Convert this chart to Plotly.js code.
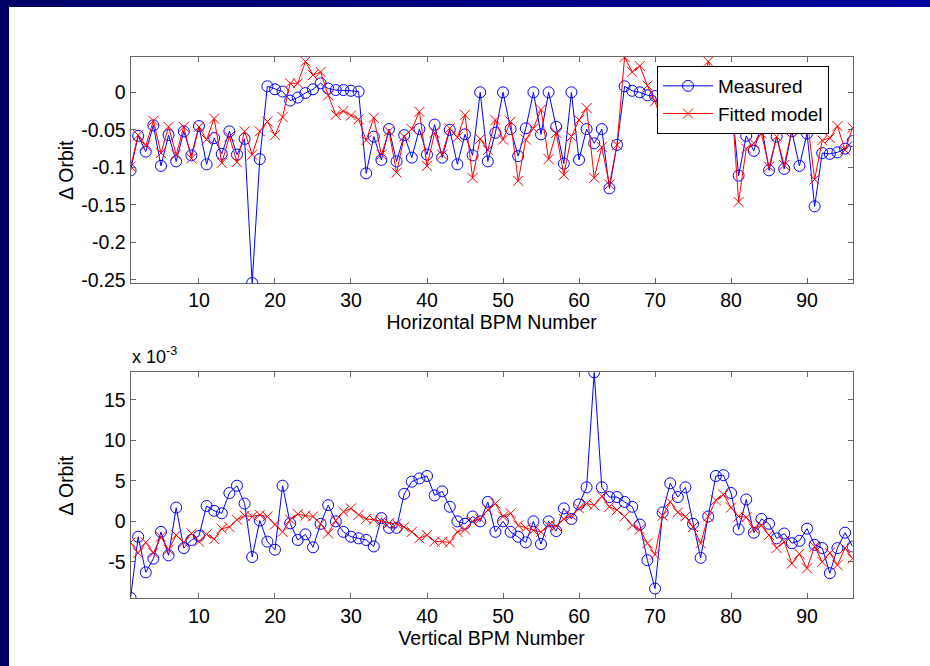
<!DOCTYPE html>
<html>
<head>
<meta charset="utf-8">
<script src="https://cdn.plot.ly/plotly-3.0.1.min.js"></script>
<style>
  html, body { margin: 0; padding: 0; }
  body { width: 930px; height: 666px; overflow: hidden; position: relative;
         background: linear-gradient(to right, #000066, #00009a); }
  #frame { position: absolute; left: 9px; top: 7px; width: 921px; height: 659px; background: #ffffff; }
  #chart { width: 921px; height: 659px; }
</style>
</head>
<body>
<div id="frame"><div id="chart"></div></div>
<script>
// BPM index 1..96
const bpm = [];
for (let i = 1; i <= 96; i++) bpm.push(i);

const xTickVals = [10, 20, 30, 40, 50, 60, 70, 80, 90];

// Horizontal orbit difference (top panel)
const hMeasured = [
  -0.104, -0.058, -0.079, -0.044, -0.098, -0.057, -0.092, -0.052, -0.084, -0.045,
  -0.096, -0.061, -0.082, -0.052, -0.083, -0.062, -0.254, -0.089, 0.008, 0.004,
  0.001, -0.011, -0.007, -0.001, 0.004, 0.012, 0.005, 0.003, 0.003, 0.002,
  0.001, -0.108, -0.059, -0.090, -0.049, -0.092, -0.057, -0.087, -0.049, -0.083,
  -0.043, -0.087, -0.050, -0.096, -0.056, -0.084, 0.000, -0.092, -0.054, 0.000,
  -0.049, -0.085, -0.048, 0.000, -0.056, 0.000, -0.046, -0.095, 0.000, -0.090,
  -0.049, -0.068, -0.049, -0.128, -0.070, 0.008, 0.002, 0.000, -0.004, -0.005,
  -0.030, -0.010, -0.025, 0.000, -0.015, -0.020, 0.000, -0.010, -0.025, -0.005,
  -0.111, -0.058, -0.078, -0.043, -0.104, -0.059, -0.102, -0.052, -0.098, -0.055,
  -0.152, -0.081, -0.082, -0.080, -0.075, -0.065
];
const hFitted = [
  -0.099, -0.057, -0.071, -0.038, -0.081, -0.046, -0.083, -0.046, -0.088, -0.046,
  -0.063, -0.035, -0.094, -0.059, -0.093, -0.052, -0.083, -0.052, -0.039, -0.057,
  -0.033, 0.012, 0.012, 0.041, 0.023, 0.027, -0.004, -0.030, -0.025, -0.031,
  -0.036, -0.064, -0.034, -0.083, -0.052, -0.107, -0.059, -0.049, -0.026, -0.098,
  -0.054, -0.083, -0.048, -0.060, -0.030, -0.114, -0.062, -0.077, -0.037, -0.063,
  -0.039, -0.118, -0.063, -0.048, -0.023, -0.089, -0.054, -0.110, -0.059, -0.037,
  -0.021, -0.114, -0.073, -0.123, -0.070, 0.047, 0.027, 0.035, 0.009, -0.012,
  -0.042, -0.010, 0.000, -0.020, 0.010, -0.005, 0.041, 0.010, -0.010, 0.000,
  -0.146, -0.075, -0.068, -0.055, -0.099, -0.059, -0.097, -0.050, -0.045, -0.035,
  -0.116, -0.064, -0.061, -0.045, -0.077, -0.047
];
const hTickVals = [-0.25, -0.2, -0.15, -0.1, -0.05, 0];
const hTickText = ['-0.25', '-0.2', '-0.15', '-0.1', '-0.05', '0'];

// Vertical orbit difference (bottom panel), in units of 1e-3
const vMeasured = [
  -9.45, -1.9, -6.3, -4.6, -1.3, -4.2, 1.7, -3.3, -2.3, -1.8,
  1.9, 1.3, 1.0, 3.5, 4.4, 2.2, -4.4, 0.1, -2.5, -3.5,
  4.4, -0.25, -2.3, -1.6, -3.2, -0.3, 2.0, 0.0, -1.3, -1.9,
  -2.1, -2.3, -3.1, 0.4, -0.8, -0.8, 3.4, 4.9, 5.3, 5.6,
  3.2, 3.7, 1.8, 0.0, -0.3, 0.6, 0.0, 2.4, -1.3, 0.0,
  -1.3, -1.9, -2.6, 0.0, -2.8, 0.0, -1.2, 1.6, 0.3, 2.1,
  4.2, 18.4, 4.2, 3.0, 3.0, 2.4, 1.8, -0.4, -4.8, -8.3,
  1.1, 4.7, 3.0, 4.2, -0.3, -4.5, 0.6, 5.6, 5.7, 3.5,
  -1.0, 2.7, -1.4, 0.3, -0.3, -2.1, -1.5, -2.7, -2.4, -0.9,
  -2.9, -3.3, -6.4, -3.3, -1.4, -3.1
];
const vFitted = [
  -2.6, -3.9, -2.6, -3.9, -1.9, -3.5, -1.7, -2.6, -1.5, -2.5,
  -1.6, -2.2, -0.9, -0.7, 0.2, 0.7, 0.6, 0.8, 0.6, -0.4,
  -1.3, 0.2, 0.9, 0.7, 0.6, -0.3, -1.5, 0.1, 1.2, 1.6,
  0.8, 0.3, 0.2, 0.0, -0.2, -0.3, -0.7, -1.3, -2.1, -1.7,
  -2.5, -2.5, -2.6, -1.3, -1.0, 0.0, 0.3, 1.4, 2.2, 0.6,
  1.0, -0.5, -0.8, -1.1, -1.3, -0.5, -0.6, 0.3, 0.7, 1.6,
  2.2, 2.0, 3.1, 1.8, 1.4, 0.6, -0.5, -1.0, -2.7, -4.1,
  0.7, 2.4, 1.1, 0.6, -0.7, -2.7, 0.6, 2.6, 3.3, 1.7,
  0.6, 0.5, -0.9, -0.5, -1.7, -3.3, -2.5, -5.2, -4.0, -5.8,
  -3.1, -5.0, -3.9, -5.4, -3.3, -4.6
];
const vTickVals = [-5, 0, 5, 10, 15];
const vTickText = ['-5', '0', '5', '10', '15'];

const BLUE = '#0000ff', RED = '#ff0000';
const FONT = 'Liberation Sans, Arial, sans-serif';

function measuredTrace(y, xa, ya, show) {
  return { x: bpm, y: y, xaxis: xa, yaxis: ya, type: 'scatter', mode: 'lines+markers',
    name: 'Measured', legendgroup: 'm', showlegend: show,
    line: { color: BLUE, width: 1 },
    marker: { symbol: 'circle-open', size: 11, color: BLUE, line: { width: 1, color: BLUE } } };
}
function fittedTrace(y, xa, ya, show) {
  return { x: bpm, y: y, xaxis: xa, yaxis: ya, type: 'scatter', mode: 'lines+markers',
    name: 'Fitted model', legendgroup: 'f', showlegend: show,
    line: { color: RED, width: 1 },
    marker: { symbol: 'x-thin-open', size: 10, color: RED, line: { width: 1, color: RED } } };
}

const data = [
  measuredTrace(hMeasured, 'x', 'y', true),
  fittedTrace(hFitted, 'x', 'y', true),
  measuredTrace(vMeasured, 'x2', 'y2', false),
  fittedTrace(vFitted, 'x2', 'y2', false)
];

const axisCommon = {
  showline: true, linecolor: '#666666', linewidth: 1, mirror: 'ticks',
  ticks: 'inside', ticklen: 5, tickcolor: '#666666', tickwidth: 1,
  showgrid: false, zeroline: false, automargin: false,
  tickfont: { family: FONT, size: 19.5, color: '#000000' }
};
const XDOM = [0.1320, 0.9160];

const layout = {
  width: 921, height: 659,
  margin: { l: 0, r: 0, t: 0, b: 0 },
  paper_bgcolor: '#ffffff', plot_bgcolor: '#ffffff',
  font: { family: FONT, size: 19.5, color: '#000000' },
  showlegend: true,
  legend: {
    x: 0.7036, y: 0.9105, xanchor: 'left', yanchor: 'top',
    bgcolor: '#ffffff', bordercolor: '#000000', borderwidth: 1,
    font: { family: FONT, size: 19, color: '#000000' },
    itemwidth: 50, tracegroupgap: 0
  },
  xaxis: Object.assign({}, axisCommon, {
    domain: XDOM, anchor: 'y', range: [1, 96], tickvals: xTickVals,
    title: { text: 'Horizontal BPM Number', font: { family: FONT, size: 19.5 }, standoff: 3 }
  }),
  yaxis: Object.assign({}, axisCommon, {
    domain: [0.5812, 0.9241], anchor: 'x', range: [-0.254, 0.047],
    tickvals: hTickVals, ticktext: hTickText
  }),
  xaxis2: Object.assign({}, axisCommon, {
    domain: XDOM, anchor: 'y2', range: [1, 96], tickvals: xTickVals,
    title: { text: 'Vertical BPM Number', font: { family: FONT, size: 19.5 }, standoff: 3 }
  }),
  yaxis2: Object.assign({}, axisCommon, {
    domain: [0.1027, 0.4457], anchor: 'x2', range: [-9.5, 18.4],
    tickvals: vTickVals, ticktext: vTickText
  }),
  annotations: [
    { text: '\u0394 Orbit', xref: 'paper', yref: 'paper', x: 0.062, y: (0.5812 + 0.9241) / 2,
      xanchor: 'center', yanchor: 'middle', textangle: -90, showarrow: false,
      font: { family: FONT, size: 19.5, color: '#000000' } },
    { text: '\u0394 Orbit', xref: 'paper', yref: 'paper', x: 0.062, y: (0.1027 + 0.4457) / 2,
      xanchor: 'center', yanchor: 'middle', textangle: -90, showarrow: false,
      font: { family: FONT, size: 19.5, color: '#000000' } },
    { text: 'x 10<sup>-3</sup>', xref: 'paper', yref: 'paper', x: 0.1310, y: 0.4715,
      xanchor: 'left', yanchor: 'middle', showarrow: false,
      font: { family: FONT, size: 18, color: '#000000' } }
  ]
};

Plotly.newPlot('chart', data, layout, { displayModeBar: false, staticPlot: true });
</script>
</body>
</html>
